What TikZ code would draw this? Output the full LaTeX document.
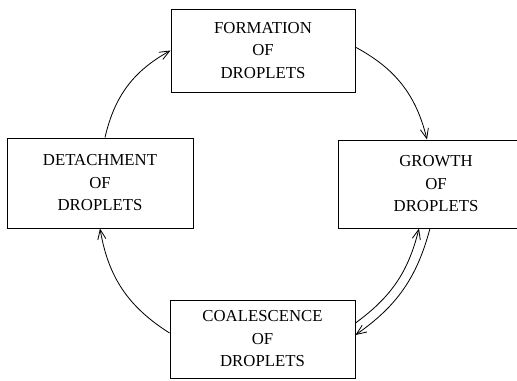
\documentclass[tikz,border=0pt]{standalone}
\usepackage{fontspec}
\setmainfont{Liberation Serif}
\usetikzlibrary{arrows.meta,positioning,calc}

\begin{document}
\begin{tikzpicture}[
    % --- Styles ---
    stagebox/.style={draw, line width=0.8pt, align=center, inner sep=0pt,
                     font=\fontsize{14.3}{19.2}\selectfont},
    flow/.style={-{Straight Barb[length=8.5pt, width=7pt]}, line width=0.7pt},
]

% === Frame of the page ===
\clip (0,0) rectangle (15.51,11.4);

% === The four stages of the cycle ===
\node[stagebox, minimum width=5.52cm, minimum height=2.49cm] (form) at (7.89, 9.885) {FORMATION\\OF\\DROPLETS};
\node[stagebox, minimum width=5.88cm, minimum height=2.64cm] (grow) at (13.08, 5.88) {GROWTH\\OF\\DROPLETS};
\node[stagebox, minimum width=5.55cm, minimum height=2.34cm] (coal) at (7.875, 1.23) {COALESCENCE\\OF\\DROPLETS};
\node[stagebox, minimum width=5.58cm, minimum height=2.70cm] (deta) at (3.00, 5.91) {DETACHMENT\\OF\\DROPLETS};

% === Arrows round the cycle ===
\draw[flow] ([xshift=0.15cm]deta.north) to[bend left=24] (form.west);
\draw[flow] ([yshift=0.10cm]form.east) to[bend left=24] ([xshift=-0.27cm]grow.north);
\draw[flow] ([xshift=-0.18cm]grow.south) to[bend left=20] ([yshift=0.12cm]coal.east);
\draw[flow] ([yshift=0.48cm]coal.east) to[bend right=20] ([xshift=-0.51cm]grow.south);
\draw[flow] ([yshift=0.18cm]coal.west) to[bend left=24] (deta.south);

\end{tikzpicture}
\end{document}
